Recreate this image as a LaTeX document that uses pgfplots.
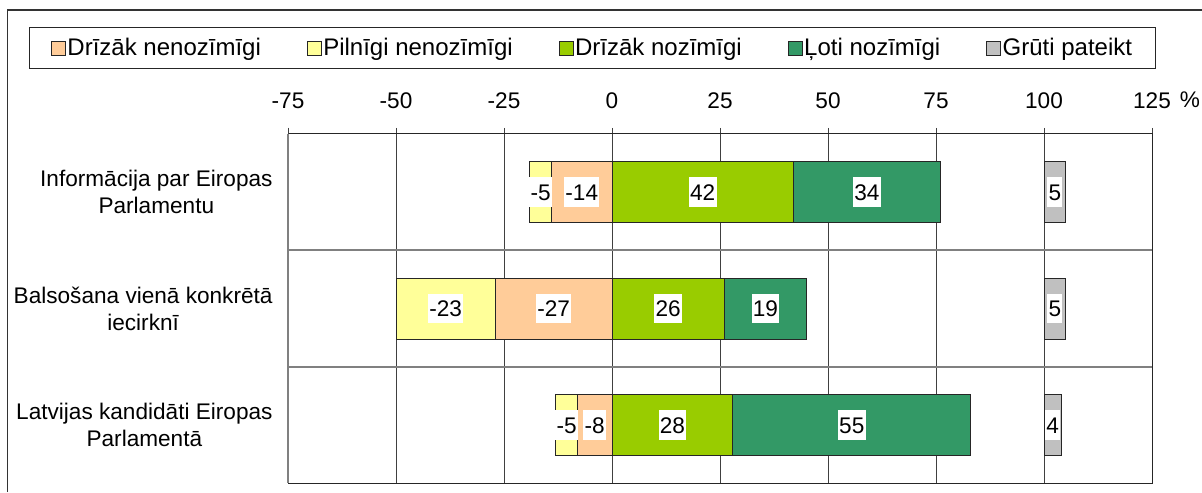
\documentclass[border=0pt]{standalone}
\usepackage{fontspec}
\setmainfont{Liberation Sans}
\usepackage{pgfplots}
\usepackage{pgfplotstable}
\pgfplotsset{compat=1.18}
\definecolor{cDN}{HTML}{FFCC99}
\definecolor{cPN}{HTML}{FFFF99}
\definecolor{cDZ}{HTML}{99CC00}
\definecolor{cLZ}{HTML}{339966}
\definecolor{cGP}{HTML}{C0C0C0}
\definecolor{gridc}{HTML}{404040}
\definecolor{sepc}{HTML}{808080}

% Drīzāk nenozīmīgi
\pgfplotstableread{
y v
1 -14
2 -27
3 -8
}\tDN
% Pilnīgi nenozīmīgi
\pgfplotstableread{
y v
1 -5
2 -23
3 -5
}\tPN
% Drīzāk nozīmīgi
\pgfplotstableread{
y v
1 42
2 26
3 28
}\tDZ
% Ļoti nozīmīgi
\pgfplotstableread{
y v
1 34
2 19
3 55
}\tLZ
% Grūti pateikt (drawn from 100)
\pgfplotstableread{
y v
1 5
2 5
3 4
}\tGP

\pgfplotsset{
  /pgf/number format/assume math mode=true,
  common/.style={
    scale only axis, width=432pt, height=174.5pt,
    at={(144pt,4.5pt)}, anchor=south west,
    ymin=0.5, ymax=3.5, y dir=reverse,
    xbar stacked, bar width=30.5pt,
  },
  lbl/.style={
    point meta=explicit symbolic,
    nodes near coords={\pgfplotspointmeta},
    nodes near coords align={center},
    every node near coord/.style={anchor=center, fill=white, text=black,
      inner xsep=0.6pt, inner ysep=0pt, text height=11.5pt, text depth=3.3pt,
      font=\fontsize{11.3}{13}\selectfont},
  },
  barst/.style={draw=black!85, line width=0.5pt, fill=#1},
}

\begin{document}
\begin{tikzpicture}
\path[use as bounding box] (0,0) rectangle (601pt,246pt);

\begin{axis}[common,
  xmin=-75, xmax=125, xtick={-75,-50,...,125},
  xtick pos=right, xticklabel pos=right, tick align=outside, major tick length=3pt,
  xmajorgrids, major grid style={gridc, line width=0.5pt},
  x tick style={gridc, line width=0.5pt},
  xticklabel style={font=\fontsize{11.3}{13}\selectfont, yshift=6.2pt},
  extra x ticks={-75}, extra x tick labels={},
  extra x tick style={grid=major, major grid style={sepc, line width=1pt}},
  ytick={1,2,3},
  yticklabels={{Informācija par Eiropas\\Parlamentu},{Balsošana vienā konkrētā\\iecirknī},{Latvijas kandidāti Eiropas\\Parlamentā}},
  y tick style={draw=none},
  yticklabel style={align=center, font=\fontsize{11.3}{13.5}\selectfont, xshift=-1.2pt},
  extra y ticks={1.5,2.5}, extra y tick labels={},
  extra y tick style={grid=major, major grid style={sepc, line width=1pt}},
  axis line style={black!85, line width=0.5pt},
  legend columns=5,
  legend image code/.code={\draw[#1, line width=0.5pt] (0pt,-3.5pt) rectangle (7pt,3.5pt);},
  legend style={at={(-0.29977,1.30659)}, anchor=north west, draw=black!85, line width=0.5pt,
    font=\fontsize{12}{14}\selectfont, inner xsep=10.75pt, inner ysep=3.2pt,
    nodes={inner xsep=0.75pt, inner ysep=2pt},
    /tikz/every even column/.append style={column sep=22.2pt}},
]
\addplot[barst=cDN, lbl] table[x=v, y=y, meta=v] {\tDN};
\addlegendentry{Drīzāk nenozīmīgi}
\addplot[barst=cPN, lbl] table[x=v, y=y, meta=v] {\tPN};
\addlegendentry{Pilnīgi nenozīmīgi}
\addlegendimage{barst=cDZ}
\addlegendentry{Drīzāk nozīmīgi}
\addlegendimage{barst=cLZ}
\addlegendentry{Ļoti nozīmīgi}
\addlegendimage{barst=cGP}
\addlegendentry{Grūti pateikt}
\end{axis}

\begin{axis}[common, hide axis, xmin=-75, xmax=125]
\addplot[barst=cDZ, lbl] table[x=v, y=y, meta=v] {\tDZ};
\addplot[barst=cLZ, lbl] table[x=v, y=y, meta=v] {\tLZ};
\end{axis}

% Grūti pateikt: same geometry, axis shifted by 100 so that bars start at 100
\begin{axis}[common, hide axis, xmin=-175, xmax=25]
\addplot[barst=cGP, lbl] table[x=v, y=y, meta=v] {\tGP};
\end{axis}

\node[anchor=base, font=\fontsize{11.3}{13}\selectfont] at (595pt,192pt) {\%};
\draw[black!80, line width=0.75pt] (3.75pt,0pt) -- (3.75pt,241pt) -- (601pt,241pt);
\end{tikzpicture}
\end{document}
